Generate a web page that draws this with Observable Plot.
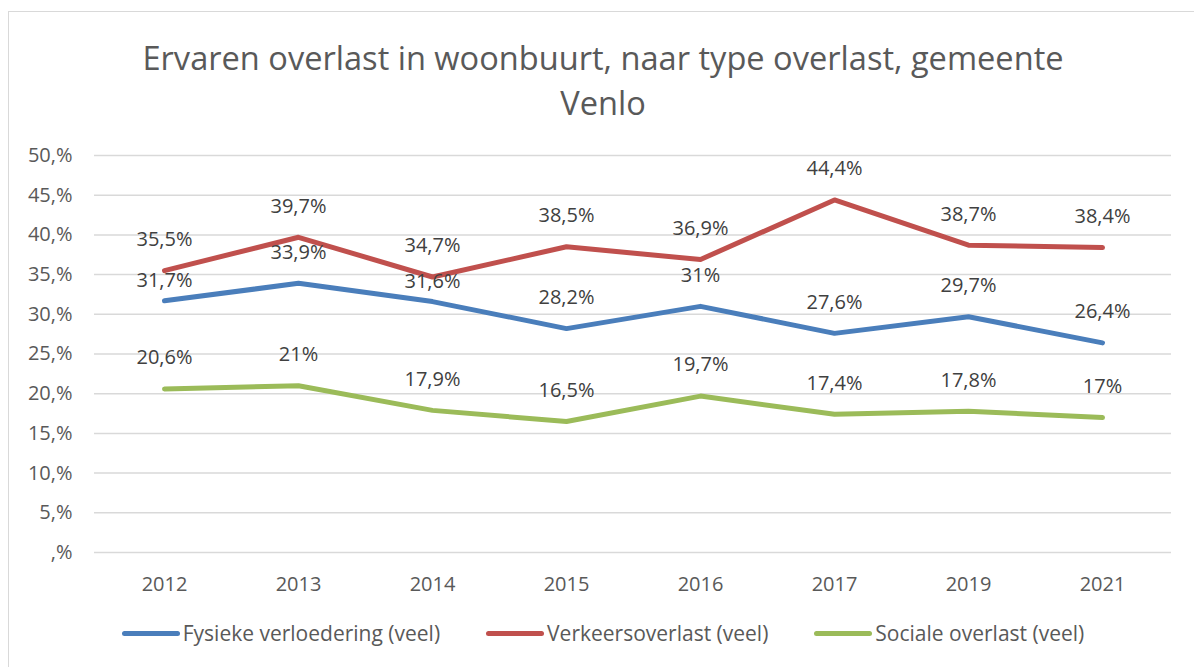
<!DOCTYPE html>
<html>
<head>
<meta charset="utf-8">
<script src="https://cdn.jsdelivr.net/npm/d3@7"></script>
<script src="https://cdn.jsdelivr.net/npm/@observablehq/plot@0.6"></script>
<style>
  html, body { margin: 0; padding: 0; background: #fff; }
  body { width: 1194px; height: 667px; position: relative; overflow: hidden; font-family: "Open Sans", sans-serif; }
  #frame { position: absolute; left: 8px; top: 11px; width: 1190px; height: 670px; border: 1.5px solid #d9d9d9; box-sizing: border-box; }
  #title { position: absolute; left: 8px; width: 1190px; top: 35px; text-align: center; font-size: 32.6px; line-height: 45px; color: #595959; }
  #chart { position: absolute; left: 0; top: 130px; }
  #legend { position: absolute; left: 8px; width: 1190px; top: 619px; display: flex; justify-content: center; gap: 46px; font-size: 21px; color: #595959; line-height: 28px; }
  .item { display: flex; align-items: center; white-space: nowrap; }
  .sw { width: 58px; height: 5px; border-radius: 3px; margin-right: 3px; }
</style>
</head>
<body>
<div id="frame"></div>
<div id="title">Ervaren overlast in woonbuurt, naar type overlast, gemeente<br>Venlo</div>
<div id="chart"></div>
<div id="legend"></div>
<script>
const years = ["2012", "2013", "2014", "2015", "2016", "2017", "2019", "2021"];
const seriesNames = ["Fysieke verloedering (veel)", "Verkeersoverlast (veel)", "Sociale overlast (veel)"];
const fysieke = [31.7, 33.9, 31.6, 28.2, 31, 27.6, 29.7, 26.4];
const verkeer = [35.5, 39.7, 34.7, 38.5, 36.9, 44.4, 38.7, 38.4];
const sociaal = [20.6, 21, 17.9, 16.5, 19.7, 17.4, 17.8, 17];
const yTicks = [0, 5, 10, 15, 20, 25, 30, 35, 40, 45, 50];
const colors = ["#4a7ebb", "#c0504d", "#9bbb59"];

const seriesValues = [fysieke, verkeer, sociaal];
const data = [];
seriesNames.forEach((s, i) => {
  years.forEach((y, j) => data.push({series: s, year: y, value: seriesValues[i][j]}));
});
const fmt = v => String(v).replace(".", ",") + "%";
// labels Excel moved closer to the line to avoid overlap
const nudged = new Set(["Fysieke verloedering (veel)|2012", "Fysieke verloedering (veel)|2014"]);
const isNudged = d => nudged.has(d.series + "|" + d.year);

const chart = Plot.plot({
  width: 1194,
  height: 470,
  marginLeft: 94,
  marginRight: 23,
  marginTop: 25,
  marginBottom: 48,
  style: {fontFamily: "'Open Sans', sans-serif", fontSize: "20px", color: "#595959", background: "transparent"},
  x: {type: "point", domain: years, padding: 0.5, label: null},
  y: {domain: [0, 50], label: null},
  color: {domain: seriesNames, range: colors},
  marks: [
    Plot.gridY(yTicks, {stroke: "#d9d9d9", strokeOpacity: 1, strokeWidth: 1.5}),
    Plot.axisY(yTicks, {tickSize: 0, tickPadding: 22, tickFormat: d => (d === 0 ? "" : d) + ",%", fill: "#595959", fontSize: 20, label: null}),
    Plot.axisX({tickSize: 0, tickPadding: 24, fill: "#595959", fontSize: 20, label: null}),
    Plot.line(data, {x: "year", y: "value", z: "series", stroke: "series", strokeWidth: 5, strokeLinecap: "round", strokeLinejoin: "round"}),
    Plot.text(data.filter(d => !isNudged(d)), {x: "year", y: "value", text: d => fmt(d.value), dy: -31, fill: "#404040", fontSize: 20}),
    Plot.text(data.filter(isNudged), {x: "year", y: "value", text: d => fmt(d.value), dy: -20, fill: "#404040", fontSize: 20})
  ]
});
document.getElementById("chart").appendChild(chart);

const legend = document.getElementById("legend");
seriesNames.forEach((s, i) => {
  const item = document.createElement("div");
  item.className = "item";
  const sw = document.createElement("div");
  sw.className = "sw";
  sw.style.background = colors[i];
  const t = document.createElement("span");
  t.textContent = s;
  item.appendChild(sw);
  item.appendChild(t);
  legend.appendChild(item);
});
</script>
</body>
</html>
